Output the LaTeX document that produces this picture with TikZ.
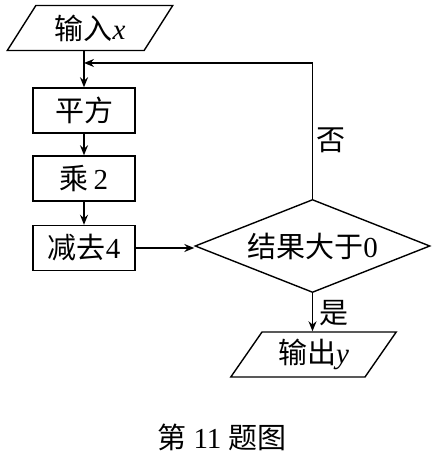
\documentclass[tikz,border=0pt]{standalone}
\usepackage{fontspec}
\setmainfont{Liberation Serif}
\newfontfamily\cjk{Noto Sans CJK SC}
\usetikzlibrary{positioning,arrows.meta,shapes.geometric}

\begin{document}
\begin{tikzpicture}[
  x=0.5pt,y=-0.5pt,
  every node/.style={font=\fontsize{14.5}{17}\selectfont},
  io/.style={draw,trapezium,trapezium left angle=55,trapezium right angle=125,
             trapezium stretches=true,minimum width=83pt,minimum height=22.5pt,
             inner sep=0pt},
  stepbox/.style={draw,minimum width=51pt,minimum height=22.5pt,inner sep=0pt},
  test/.style={draw,diamond,minimum width=117.5pt,minimum height=46.5pt,
               inner sep=0pt,aspect=2.5},
  arr/.style={-{Stealth[length=5pt,width=4pt]},line width=0.7pt},
  line width=0.7pt
]
\useasboundingbox (0,0) rectangle (433,458);

\node[io] (in) at (90,28) {{\cjk 输入}\textit{x}};
\node[stepbox] (sq) at (84,110.5) {\cjk 平方};
\node[stepbox] (dbl) at (84,178.5) {{\cjk 乘}\,2};
\node[stepbox] (sub) at (84,248) {{\cjk 减去}4};
\node[test] (chk) at (312.5,246) {{\cjk 结果大于}0};
\node[io] (out) at (313.5,354.5) {{\cjk 输出}\textit{y}};
\coordinate (back) at (84,63);

\draw[arr] (in.south -| sq.north) -- (sq.north);
\foreach \u/\v in {sq/dbl,dbl/sub}
  {\draw[arr] (\u)--(\v);}
\draw[arr] (sub.east) -- (sub.east -| chk.west);
\draw[arr] (chk.north) |- (back);
\draw[arr] (chk.south) -- (out.north -| chk.south);

\node (no) at (331,140) {\cjk 否};
\node (yes) at (334,313) {\cjk 是};
\node (cap) at (222,437) {{\cjk 第} 11 {\cjk 题图}};

\end{tikzpicture}
\end{document}
